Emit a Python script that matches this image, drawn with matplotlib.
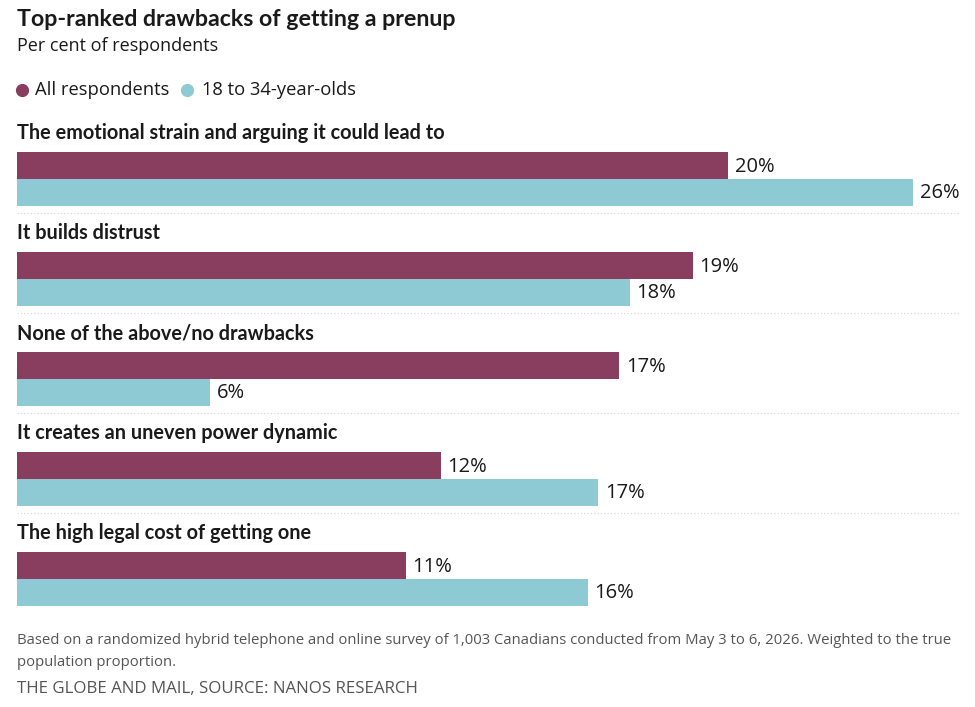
import matplotlib
matplotlib.use("Agg")
import matplotlib.pyplot as plt
from matplotlib.font_manager import fontManager

# Data (bar lengths, labels as printed)
categories = [
    "The emotional strain and arguing it could lead to",
    "It builds distrust",
    "None of the above/no drawbacks",
    "It creates an uneven power dynamic",
    "The high legal cost of getting one",
]
all_resp = [20.3, 19.3, 17.2, 12.1, 11.1]
young = [25.6, 17.5, 5.5, 16.6, 16.3]
all_labels = ["20%", "19%", "17%", "12%", "11%"]
young_labels = ["26%", "18%", "6%", "17%", "16%"]
series_names = ["All respondents", "18 to 34-year-olds"]

MAROON = "#8a3e5f"
TEAL = "#8ecad4"
TXT = "#1a1a1a"
GREY = "#555555"

names = {f.name for f in fontManager.ttflist}
HEAD = "Lato" if "Lato" in names else "DejaVu Sans"
BODY = "Open Sans" if "Open Sans" in names else "DejaVu Sans"

W, H = 975, 707
PX = 35.0   # pixels per percentage point
X0 = 17

fig = plt.figure(figsize=(W / 100, H / 100), dpi=100)
ax = fig.add_axes([0, 0, 1, 1])
ax.set_xlim(-X0 / PX, (W - X0) / PX)
ax.set_ylim(H, 0)
ax.axis("off")

# headings
ax.text(0, 20, "Top-ranked drawbacks of getting a prenup", family=HEAD,
        weight="bold", fontsize=16.7, color=TXT, va="center", ha="left")
ax.text(0, 46, "Per cent of respondents", family=BODY, fontsize=13, color=TXT,
        va="center", ha="left")

# legend
ax.plot([(22 - X0) / PX], [90], "o", ms=8.5, color=MAROON)
ax.text((35 - X0) / PX, 90, series_names[0], family=BODY, fontsize=13.2, color=TXT,
        va="center")
ax.plot([(187 - X0) / PX], [90], "o", ms=8.5, color=TEAL)
ax.text((202 - X0) / PX, 90, series_names[1], family=BODY, fontsize=13.2, color=TXT,
        va="center")

bar_h = 27
for i, cat in enumerate(categories):
    top = 152 + 100 * i
    ax.text(0, top - 19, cat, family=HEAD, weight="bold", fontsize=14.3, color=TXT,
            va="center", ha="left")
    ax.barh(top + bar_h / 2, all_resp[i], height=bar_h, color=MAROON, left=0)
    ax.barh(top + bar_h * 1.5, young[i], height=bar_h, color=TEAL, left=0)
    ax.text(all_resp[i] + 0.2, top + bar_h / 2 + 1, all_labels[i], family=BODY,
            fontsize=14.5, color=TXT, va="center")
    ax.text(young[i] + 0.2, top + bar_h * 1.5 + 1, young_labels[i], family=BODY,
            fontsize=14.5, color=TXT, va="center")
    if i < len(categories) - 1:
        ax.plot([0, (960 - X0) / PX], [top + 61, top + 61], color="#d0d0d0",
                lw=0.8, ls=(0, (1, 2)))

# footer
ax.text(0, 641, "Based on a randomized hybrid telephone and online survey of 1,003 "
        "Canadians conducted from May 3 to 6, 2026. Weighted to the true",
        family=BODY, fontsize=10.75, color=GREY, va="center")
ax.text(0, 662, "population proportion.", family=BODY, fontsize=10.75,
        color=GREY, va="center")
ax.text(0, 689, "THE GLOBE AND MAIL, SOURCE: NANOS RESEARCH", family=BODY,
        fontsize=12.2, color=GREY, va="center")

fig.savefig("out.png", dpi=100)
